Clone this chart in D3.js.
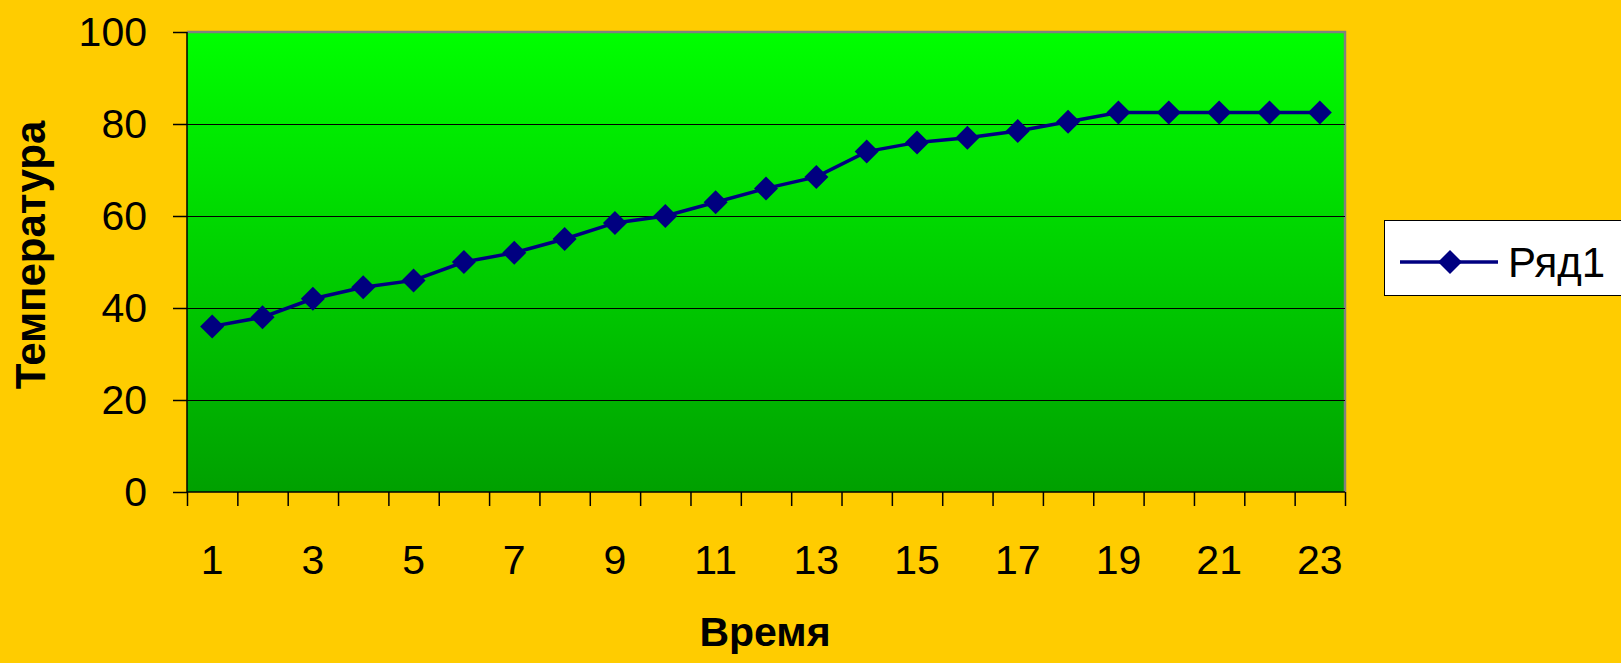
<!DOCTYPE html>
<html>
<head>
<meta charset="utf-8">
<script src="https://cdn.jsdelivr.net/npm/d3@7"></script>
<style>
  html, body { margin: 0; padding: 0; background: #FFCC00; }
  svg { display: block; }
</style>
</head>
<body>
<script>
const categories = ["1","2","3","4","5","6","7","8","9","10","11","12","13","14","15","16","17","18","19","20","21","22","23"];
const values = [36, 38, 42, 44.5, 46, 50, 52, 55, 58.5, 60, 63, 66, 68.5, 74, 76, 77, 78.5, 80.5, 82.5, 82.5, 82.5, 82.5, 82.5];
const yTicks = [0, 20, 40, 60, 80, 100];
const xTickLabels = ["1","3","5","7","9","11","13","15","17","19","21","23"];
const seriesName = "Ряд1";
const xTitle = "Время";
const yTitle = "Температура";

(function () {
const W = 1621, H = 663;
const pL = 187, pR = 1345, pT = 32, pB = 492;
const font = "'Liberation Sans', Arial, sans-serif";

const svg = d3.select("body").append("svg").attr("width", W).attr("height", H);
svg.append("rect").attr("width", W).attr("height", H).attr("fill", "#FFCC00");

const defs = svg.append("defs");
const grad = defs.append("linearGradient").attr("id", "bg").attr("x1", 0).attr("y1", 0).attr("x2", 0).attr("y2", 1);
grad.append("stop").attr("offset", "0%").attr("stop-color", "#00FF00");
grad.append("stop").attr("offset", "100%").attr("stop-color", "#00A000");

const x = d3.scaleBand().domain(categories).range([pL, pR]).padding(0);
const xEdges = d3.scaleLinear().domain([0, categories.length]).range([pL, pR]);
const y = d3.scaleLinear().domain([0, 100]).range([pB, pT]);

svg.append("rect").attr("x", pL).attr("y", pT).attr("width", pR - pL).attr("height", pB - pT)
  .attr("fill", "url(#bg)");
svg.append("path").attr("d", `M${pL},${pT}H${pR}V${pB}`).attr("fill", "none")
  .attr("stroke", "#808080").attr("stroke-width", 2.5);

svg.append("g").selectAll("line").data(yTicks.filter(d => d > 0 && d < 100)).join("line")
  .attr("x1", pL).attr("x2", pR).attr("y1", d => y(d)).attr("y2", d => y(d))
  .attr("stroke", "#000").attr("stroke-width", 1).attr("shape-rendering", "crispEdges");

const yAxis = svg.append("g").attr("transform", `translate(${pL},0)`)
  .call(d3.axisLeft(y).tickValues(yTicks).tickSize(14).tickPadding(26));
yAxis.selectAll("path,line").attr("stroke", "#000").attr("stroke-width", 1.5);
yAxis.select(".domain").attr("d", `M0,${pT}V${pB}`);
yAxis.selectAll("text").attr("font-family", font).attr("font-size", 41).attr("fill", "#000");

const xAxisT = svg.append("g").attr("transform", `translate(0,${pB})`)
  .call(d3.axisBottom(xEdges).tickValues(d3.range(0, categories.length + 1)).tickSize(14).tickFormat(""));
xAxisT.selectAll("path,line").attr("stroke", "#000").attr("stroke-width", 1.5);
xAxisT.select(".domain").attr("d", `M${pL},0H${pR}`);

const xAxisL = svg.append("g").attr("transform", `translate(0,${pB})`)
  .call(d3.axisBottom(x).tickValues(xTickLabels).tickSize(0).tickPadding(53));
xAxisL.select(".domain").remove();
xAxisL.selectAll("text").attr("font-family", font).attr("font-size", 41).attr("fill", "#000");

const line = d3.line().x((d, i) => x(categories[i]) + x.bandwidth() / 2).y(d => y(d));
svg.append("path").datum(values).attr("d", line).attr("fill", "none")
  .attr("stroke", "#000080").attr("stroke-width", 3.5);

const diamond = d3.symbol().type(d3.symbolSquare).size(17 * 17);
svg.append("g").selectAll("path").data(values).join("path")
  .attr("d", diamond)
  .attr("transform", (d, i) => `translate(${x(categories[i]) + x.bandwidth() / 2},${y(d)}) rotate(45)`)
  .attr("fill", "#000080");

svg.append("text").attr("x", 765).attr("y", 646).attr("text-anchor", "middle")
  .attr("font-family", font).attr("font-weight", "bold").attr("font-size", 41).attr("fill", "#000").text(xTitle);
svg.append("text").attr("transform", "translate(45,255) rotate(-90)").attr("text-anchor", "middle")
  .attr("font-family", font).attr("font-weight", "bold").attr("font-size", 42).attr("fill", "#000").text(yTitle);

const lg = svg.append("g");
lg.append("rect").attr("x", 1384.5).attr("y", 220.5).attr("width", 300).attr("height", 75)
  .attr("fill", "#fff").attr("stroke", "#000").attr("stroke-width", 1);
lg.append("line").attr("x1", 1400).attr("x2", 1498).attr("y1", 262).attr("y2", 262)
  .attr("stroke", "#000080").attr("stroke-width", 3.5);
lg.append("path").attr("d", diamond).attr("transform", "translate(1450,262) rotate(45)").attr("fill", "#000080");
lg.append("text").attr("x", 1508).attr("y", 277).attr("font-family", font).attr("font-size", 42)
  .attr("fill", "#000").text(seriesName);
})();
</script>
</body>
</html>
